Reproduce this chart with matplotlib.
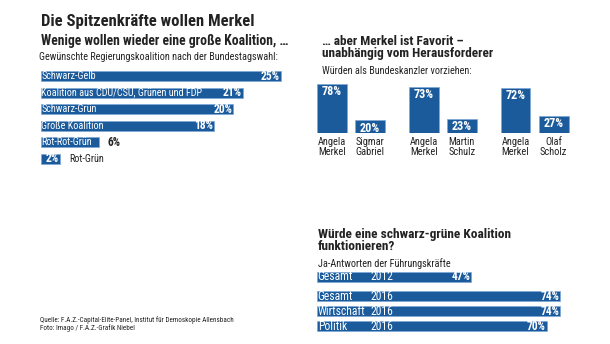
import numpy as np
import matplotlib
matplotlib.use("Agg")
import matplotlib.pyplot as plt
from matplotlib import font_manager

# ---- data -------------------------------------------------------------------
coalitions = ["Schwarz-Gelb", "Koalition aus CDU/CSU, Grünen und FDP", "Schwarz-Grün",
              "Große Koalition", "Rot-Rot-Grün", "Rot-Grün"]
coalition_pct = [25, 21, 20, 18, 6, 2]

duel_names = [("Angela\nMerkel", "Sigmar\nGabriel"),
              ("Angela\nMerkel", "Martin\nSchulz"),
              ("Angela\nMerkel", "Olaf\nScholz")]
merkel_pct = [78, 73, 72]
challenger_pct = [20, 23, 27]

sg_groups = ["Gesamt", "Gesamt", "Wirtschaft", "Politik"]
sg_years = ["2012", "2016", "2016", "2016"]
sg_pct = [47, 74, 74, 70]

BLUE = "#1b5b9c"
EDGE = "#7fa9d6"
INK = "#222222"

# look for a narrow face; the original uses a condensed sans
def find_narrow():
    fl = font_manager.fontManager.ttflist
    prefs = ["Liberation Sans Narrow", "Roboto Condensed", "Open Sans Condensed",
             "Noto Sans Condensed", "DejaVu Sans Condensed"]
    for p in prefs:
        if any(f.name == p and f.style == "normal" for f in fl):
            return p, None
    if any(f.name == "DejaVu Sans" and "condensed" in str(f.stretch) for f in fl):
        return "DejaVu Sans", "condensed"
    return "Roboto", None

FAM, STRETCH = find_narrow()
plt.rcParams["font.family"] = [FAM, "DejaVu Sans"]
if STRETCH:
    plt.rcParams["font.stretch"] = STRETCH

W, H = 610, 344
fig = plt.figure(figsize=(W / 100, H / 100), dpi=100)
fig.patch.set_facecolor("white")
R = fig.canvas.get_renderer()

def px_axes(x0, y0, x1, y1):
    """axes from pixel box (top-left origin)"""
    ax = fig.add_axes([x0 / W, 1 - y1 / H, (x1 - x0) / W, (y1 - y0) / H])
    ax.set_axis_off()
    return ax

def ftext(x, y, s, **kw):
    kw.setdefault("color", INK)
    kw.setdefault("va", "baseline")
    kw.setdefault("fontsize", 10)
    return fig.text(x / W, 1 - y / H, s, **kw)

def fit(t, width_px):
    # scale font so the text spans the width measured on the reference
    w = t.get_window_extent(R).width
    t.set_fontsize(t.get_fontsize() * width_px / w)
    return t.get_fontsize()

def probe(s, width_px, **kw):
    t = fig.text(0, 0, s, fontsize=10, **kw)
    size = fit(t, width_px)
    t.remove()
    return size

# ---- headings ---------------------------------------------------------------
fit(ftext(41, 26, "Die Spitzenkräfte wollen Merkel", fontweight="bold"), 212)
fit(ftext(41, 45, "Wenige wollen wieder eine große Koalition, …", fontweight="bold"), 247)
fit(ftext(39, 60, "Gewünschte Regierungskoalition nach der Bundestagswahl:"), 237)

t2 = ftext(322, 56.5, "unabhängig vom Herausforderer", fontweight="bold")
s = fit(t2, 171)
ftext(322, 45, "… aber Merkel ist Favorit –", fontweight="bold", fontsize=s)
fit(ftext(322, 74, "Würden als Bundeskanzler vorziehen:"), 148)

t3 = ftext(318, 238, "Würde eine schwarz-grüne Koalition", fontweight="bold")
s = fit(t3, 193)
ftext(318, 249.5, "funktionieren?", fontweight="bold", fontsize=s)
fit(ftext(318, 267, "Ja-Antworten der Führungskräfte"), 133)

t4 = ftext(40, 322.5, "Quelle: F.A.Z.-Capital-Elite-Panel, Institut für Demoskopie Allensbach")
s = fit(t4, 193)
ftext(40, 330.5, "Foto: Imago / F.A.Z.-Grafik Niebel", fontsize=s)

LBL = probe("Koalition aus CDU/CSU, Grünen und FDP", 161)
VAL = probe("25%", 19, fontweight="bold")
NAME = probe("Gabriel", 29)
MVAL = probe("78%", 20, fontweight="bold")
RLBL = probe("Wirtschaft", 47)

# ---- left: coalition bars ---------------------------------------------------
axL = px_axes(41, 67.7, 41 + 9.6 * 30, 167.3)
y = np.arange(len(coalitions))
axL.barh(y, coalition_pct, height=0.6, color=BLUE, edgecolor=EDGE, linewidth=0.5)
axL.set_xlim(0, 30)
axL.set_ylim(len(coalitions) - 0.5, -0.5)
for yi, name, v in zip(y, coalitions, coalition_pct):
    if v >= 6:
        axL.text(0.05, yi, name, color="white", fontsize=LBL, va="center", ha="left")
        if v > 10:
            axL.text(v - 0.1, yi, f"{v}%", color="white", fontsize=VAL, fontweight="bold",
                     va="center", ha="right")
        else:
            axL.text(v + 0.9, yi, f"{v}%", color=INK, fontsize=VAL, fontweight="bold",
                     va="center", ha="left")
    else:
        axL.text(v - 0.1, yi, f"{v}%", color="white", fontsize=VAL, fontweight="bold",
                 va="center", ha="right")
        axL.text(v + 0.9, yi, name, color=INK, fontsize=LBL, va="center", ha="left")

# ---- middle: chancellor duels -----------------------------------------------
axM = px_axes(304.75, 70, 580.5, 133)
g = np.arange(len(merkel_pct))
off, bw = 0.207, 0.326
axM.bar(g - off, merkel_pct, width=bw, color=BLUE, edgecolor=EDGE, linewidth=0.5)
axM.bar(g + off, challenger_pct, width=bw, color=BLUE, edgecolor=EDGE, linewidth=0.5)
axM.set_xlim(-0.5, len(g) - 0.5)
axM.set_ylim(0, 100)
for gi, (a, b), m, c in zip(g, duel_names, merkel_pct, challenger_pct):
    for xx, v, nm in ((gi - off, m, a), (gi + off, c, b)):
        axM.text(xx, v - 2, f"{v}%", color="white", fontsize=MVAL, fontweight="bold",
                 ha="center", va="top")
        axM.annotate(nm, (xx, 0), xytext=(0, -3), textcoords="offset points",
                     ha="center", va="top", fontsize=NAME, color=INK, linespacing=0.95,
                     annotation_clip=False)

# ---- bottom right: schwarz-grün ----------------------------------------------
axR = px_axes(317, 269.5, 317 + 3.28 * 80, 333.55)
yr = [0, 1.27, 2.27, 3.27]
axR.barh(yr, sg_pct, height=0.67, color=BLUE, edgecolor=EDGE, linewidth=0.5)
axR.set_xlim(0, 80)
axR.set_ylim(3.77, -0.5)
for yi, grp, yrs, v in zip(yr, sg_groups, sg_years, sg_pct):
    axR.text(0.2, yi, grp, color="white", fontsize=RLBL, va="center", ha="left")
    axR.text(16.2, yi, yrs, color="white", fontsize=RLBL, va="center", ha="left")
    axR.text(v - 0.2, yi, f"{v}%", color="white", fontsize=VAL, fontweight="bold",
             va="center", ha="right")

fig.savefig("out.png", dpi=100)
